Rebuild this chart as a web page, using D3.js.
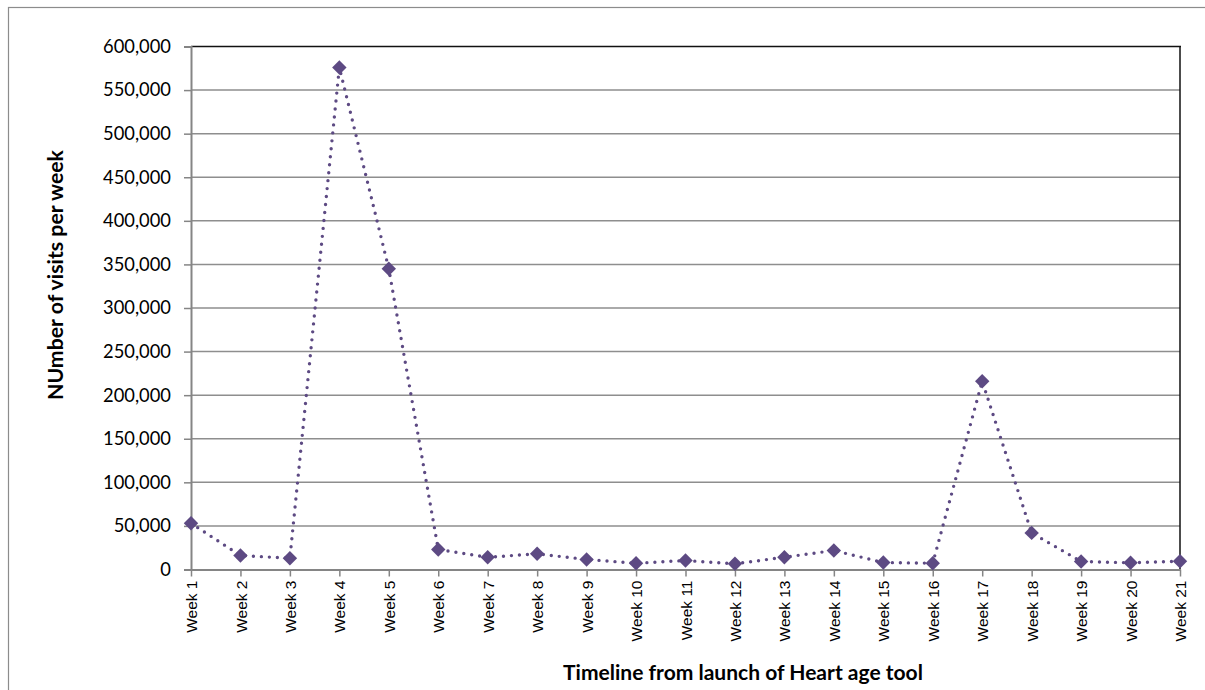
<!DOCTYPE html>
<html>
<head>
<meta charset="utf-8">
<script src="https://cdn.jsdelivr.net/npm/d3@7"></script>
<style>
  html, body { margin: 0; padding: 0; background: #fff; }
  svg { display: block; }
</style>
</head>
<body>
<svg id="chart" width="1205" height="690"></svg>
<script>
const categories = ["Week 1","Week 2","Week 3","Week 4","Week 5","Week 6","Week 7","Week 8","Week 9","Week 10","Week 11","Week 12","Week 13","Week 14","Week 15","Week 16","Week 17","Week 18","Week 19","Week 20","Week 21"];
const visits = [53000, 16000, 13000, 576000, 345000, 23000, 14000, 18000, 11500, 7200, 10300, 6500, 14100, 21800, 8000, 7200, 216000, 42000, 9200, 7700, 9500];
const yTicks = [0, 50000, 100000, 150000, 200000, 250000, 300000, 350000, 400000, 450000, 500000, 550000, 600000];
const xTitle = "Timeline from launch of Heart age tool";
const yTitle = "NUmber of visits per week";

const svg = d3.select("#chart");
const W = 1205, H = 690;
const plot = { left: 191, right: 1180, top: 46.5, bottom: 569.5 };
const purple = "#5d4a83";
const calibriLike = "Lato, 'Open Sans', sans-serif";

// fit a text element's font size so its rendered width equals target
function fitWidth(sel, target, base) {
  sel.attr("font-size", base + "px");
  const w = sel.node().getComputedTextLength();
  const s = base * target / w;
  sel.attr("font-size", s.toFixed(2) + "px");
  return s;
}

// outer chart border
svg.append("rect")
  .attr("x", 8.5).attr("y", 7.5)
  .attr("width", W + 20).attr("height", H + 20)
  .attr("fill", "none").attr("stroke", "#8c8c8c").attr("stroke-width", 1.2);

const x = d3.scalePoint().domain(categories).range([plot.left, plot.right]);
const y = d3.scaleLinear().domain([0, 600000]).range([plot.bottom, plot.top]);

// gridlines
svg.append("g")
  .selectAll("line")
  .data(yTicks.filter(d => d > 0 && d < 600000))
  .join("line")
  .attr("x1", plot.left).attr("x2", plot.right)
  .attr("y1", d => y(d)).attr("y2", d => y(d))
  .attr("stroke", "#8e8e8e").attr("stroke-width", 1.5);

// top and right plot border
svg.append("line")
  .attr("x1", plot.left).attr("x2", plot.right + 1)
  .attr("y1", y(600000)).attr("y2", y(600000))
  .attr("stroke", "#111").attr("stroke-width", 1.5);
svg.append("line")
  .attr("x1", plot.right).attr("x2", plot.right)
  .attr("y1", plot.top).attr("y2", plot.bottom)
  .attr("stroke", "#111").attr("stroke-width", 1.5);

// y axis
const fmt = d3.format(",");
const yAxis = d3.axisLeft(y).tickValues(yTicks).tickFormat(fmt).tickSize(7).tickPadding(13);
const gy = svg.append("g").attr("transform", `translate(${plot.left},0)`).call(yAxis);
gy.select(".domain").attr("stroke", "#858585").attr("stroke-width", 2);
gy.selectAll(".tick line").attr("stroke", "#858585").attr("stroke-width", 1.5);
const yLabels = gy.selectAll(".tick text")
  .attr("font-family", calibriLike)
  .attr("fill", "#000");
{
  const top = yLabels.filter(d => d === 600000);
  const s = fitWidth(top, 68, 18);
  yLabels.attr("font-size", s.toFixed(2) + "px");
}

// x axis
const xAxis = d3.axisBottom(x).tickSize(7).tickSizeOuter(0);
const gx = svg.append("g").attr("transform", `translate(0,${plot.bottom})`).call(xAxis);
gx.select(".domain").attr("stroke", "#858585").attr("stroke-width", 2);
gx.selectAll(".tick line").attr("stroke", "#858585").attr("stroke-width", 1.5);
const xLabels = gx.selectAll(".tick text")
  .attr("font-family", "'Liberation Sans', Arial, sans-serif")
  .attr("fill", "#000")
  .attr("transform", "rotate(-90)")
  .attr("text-anchor", "end")
  .attr("x", -11).attr("y", 0).attr("dy", "0.36em");
{
  const ref = xLabels.filter(d => d === "Week 18");
  const s = fitWidth(ref, 61, 15);
  xLabels.attr("font-size", s.toFixed(2) + "px");
}

// line
const line = d3.line().x((d, i) => x(categories[i])).y(d => y(d));
svg.append("path")
  .datum(visits)
  .attr("d", line)
  .attr("fill", "none")
  .attr("stroke", purple)
  .attr("stroke-width", 3.4)
  .attr("stroke-linecap", "round")
  .attr("stroke-dasharray", "0,8");

// markers
const sym = d3.symbol().type(d3.symbolSquare).size(104);
svg.append("g")
  .selectAll("path")
  .data(visits)
  .join("path")
  .attr("d", sym)
  .attr("transform", (d, i) => `translate(${x(categories[i])},${y(d)}) rotate(45)`)
  .attr("fill", purple);

// axis titles
const xt = svg.append("text")
  .attr("x", 743).attr("y", 680)
  .attr("text-anchor", "middle")
  .attr("font-family", calibriLike)
  .attr("font-weight", "bold")
  .text(xTitle);
fitWidth(xt, 360, 18);

const yt = svg.append("text")
  .attr("transform", "translate(63,275) rotate(-90)")
  .attr("text-anchor", "middle")
  .attr("font-family", calibriLike)
  .attr("font-weight", "bold")
  .text(yTitle);
fitWidth(yt, 250, 18);
</script>
</body>
</html>
